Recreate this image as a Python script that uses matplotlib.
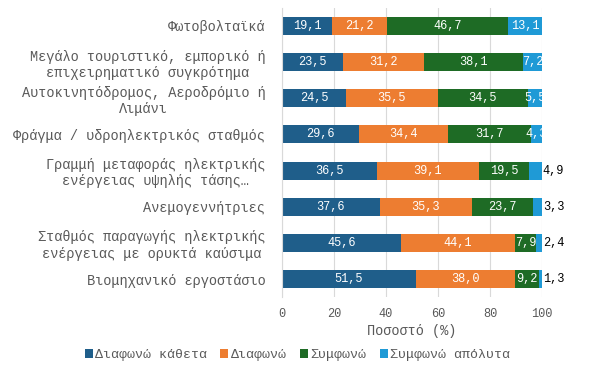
import numpy as np
import matplotlib.pyplot as plt

plt.rcParams['font.family'] = ['Liberation Mono', 'DejaVu Sans Mono']

categories = [
    "Φωτοβολταϊκά",
    "Μεγάλο τουριστικό, εμπορικό ή\nεπιχειρηματικό συγκρότημα",
    "Αυτοκινητόδρομος, Αεροδρόμιο ή\nΛιμάνι",
    "Φράγμα / υδροηλεκτρικός σταθμός",
    "Γραμμή μεταφοράς ηλεκτρικής\nενέργειας υψηλής τάσης…",
    "Ανεμογεννήτριες",
    "Σταθμός παραγωγής ηλεκτρικής\nενέργειας με ορυκτά καύσιμα",
    "Βιομηχανικό εργοστάσιο",
]
series_names = ["Διαφωνώ κάθετα", "Διαφωνώ", "Συμφωνώ", "Συμφωνώ απόλυτα"]
disagree_strong = [19.1, 23.5, 24.5, 29.6, 36.5, 37.6, 45.6, 51.5]
disagree = [21.2, 31.2, 35.5, 34.4, 39.1, 35.3, 44.1, 38.0]
agree = [46.7, 38.1, 34.5, 31.7, 19.5, 23.7, 7.9, 9.2]
agree_strong = [13.1, 7.2, 5.5, 4.3, 4.9, 3.3, 2.4, 1.3]

colors = ["#1F5E8A", "#ED7D31", "#1E6B25", "#1F9AD6"]
# last-segment labels drawn outside the bar (black) for these rows
outside = [False, False, False, False, True, True, True, True]

fig = plt.figure(figsize=(5.95, 3.92), dpi=100)
ax = fig.add_axes([0.474, 0.242, 0.437, 0.738])

y = np.arange(len(categories))
data = [disagree_strong, disagree, agree, agree_strong]
left = np.zeros(len(categories))
for k, (vals, col, name) in enumerate(zip(data, colors, series_names)):
    vals = np.array(vals)
    ax.barh(y, vals, left=left, height=0.5, color=col, label=name, zorder=2)
    for i, v in enumerate(vals):
        txt = f"{v:.1f}".replace(".", ",")
        if k == 3 and outside[i]:
            ax.text(100.3, y[i], txt, ha='left', va='center', fontsize=8.6,
                    color='black', clip_on=False)
        else:
            ax.text(left[i] + v / 2, y[i], txt, ha='center', va='center',
                    fontsize=8.6, color='white', clip_on=True, zorder=3)
    left = left + vals

ax.set_xlim(0, 100)
ax.set_ylim(len(categories) - 0.5, -0.5)
ax.set_yticks(y)
ax.set_yticklabels(categories, fontsize=9.8, color='#595959', multialignment='center')
ax.set_xticks([0, 20, 40, 60, 80, 100])
ax.tick_params(axis='x', labelsize=8.6, labelcolor='#595959', length=0, pad=8)
ax.tick_params(axis='y', length=0, pad=12)
ax.grid(axis='x', color='#D9D9D9', linewidth=0.8, zorder=0)
for s in ['top', 'right', 'bottom']:
    ax.spines[s].set_visible(False)
ax.spines['left'].set_color('#D9D9D9')
ax.set_xlabel("Ποσοστό (%)", fontsize=9.8, color='#595959', labelpad=3)

fig.legend(loc='center', bbox_to_anchor=(0.5, 0.094), ncol=4, frameon=False,
           fontsize=9.5, handlelength=0.6, handleheight=0.6, handletextpad=0.2,
           columnspacing=1.0, labelcolor='#595959')

fig.savefig("out.png", dpi=100)
